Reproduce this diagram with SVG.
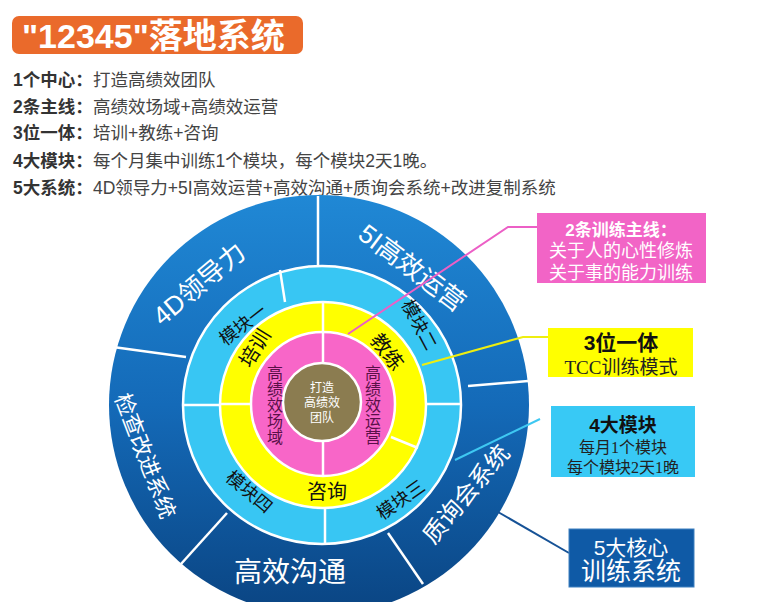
<svg xmlns="http://www.w3.org/2000/svg" width="760" height="602" viewBox="0 0 760 602">
<defs>
<linearGradient id="gOuter" x1="0" y1="0" x2="0" y2="1">
<stop offset="0" stop-color="#2088d5"/>
<stop offset="0.5" stop-color="#146ab8"/>
<stop offset="1" stop-color="#0a4482"/>
</linearGradient>
<style>
.t{font-family:"Liberation Sans","Noto Sans CJK SC",sans-serif}
.s{font-family:"Liberation Serif","Noto Sans CJK SC",serif}
.lbl{font-size:17.5px;font-weight:bold;fill:#333}
.val{font-size:17.5px;fill:#444}
.ow{fill:#fff;text-anchor:middle;dominant-baseline:central}
.bk{fill:#111;text-anchor:middle;dominant-baseline:central}
.div{stroke:#fff;stroke-width:2.5;fill:none}
.ring{stroke:#fff;stroke-width:2.5}
.lead{fill:none;stroke-width:2}
</style>
</defs>
<rect width="760" height="602" fill="#fff"/>

<g id="title">
<rect x="12" y="16" width="291" height="38" rx="7" fill="#ea6a2b"/>
<text class="t" x="22" y="48" font-size="34" font-weight="bold" fill="#fff">"12345"落地系统</text>
</g>

<g id="list">
<text class="t lbl" x="13" y="86">1个中心：</text><text class="t val" x="93" y="86">打造高绩效团队</text>
<text class="t lbl" x="13" y="113">2条主线：</text><text class="t val" x="93" y="113">高绩效场域+高绩效运营</text>
<text class="t lbl" x="13" y="139">3位一体：</text><text class="t val" x="93" y="139">培训+教练+咨询</text>
<text class="t lbl" x="13" y="167">4大模块：</text><text class="t val" x="93" y="167">每个月集中训练1个模块，每个模块2天1晚。</text>
<text class="t lbl" x="13" y="194">5大系统：</text><text class="t val" x="93" y="194">4D领导力+5I高效运营+高效沟通+质询会系统+改进复制系统</text>
</g>

<g id="outer-ring">
<circle cx="319" cy="405" r="210" fill="url(#gOuter)"/>
</g>
<g id="module-ring">
<circle class="ring" cx="322" cy="405" r="139" fill="#38c6f3"/>
</g>
<g id="yellow-ring">
<circle class="ring" cx="323" cy="405" r="103" fill="#ffff00"/>
</g>
<g id="pink-ring">
<circle class="ring" cx="323" cy="404" r="72" fill="#f866c8"/>
</g>

<g id="dividers">
<line class="div" x1="318" y1="196" x2="318" y2="266"/>
<line class="div" x1="113" y1="347" x2="186" y2="357"/>
<line class="div" x1="227" y1="513" x2="181" y2="564"/>
<line class="div" x1="388" y1="533" x2="423" y2="584"/>
<line class="div" x1="468" y1="386" x2="528" y2="381"/>
<line class="div" x1="280" y1="270" x2="285" y2="302"/>
<line class="div" x1="183" y1="405" x2="221" y2="405"/>
<line class="div" x1="325" y1="508" x2="325" y2="543"/>
<line class="div" x1="426" y1="404" x2="461" y2="404"/>
<line class="div" x1="323" y1="302" x2="323" y2="332"/>
<line class="div" x1="391" y1="437" x2="418" y2="448"/>
<line class="div" x1="220" y1="404" x2="251" y2="404"/>
<line class="div" x1="323" y1="332" x2="323" y2="476"/>
</g>

<g id="center">
<circle class="ring" cx="322" cy="402" r="39" fill="#8b7c50"/>
<text class="t" x="322" y="392" font-size="12" fill="#fff" text-anchor="middle">打造</text>
<text class="t" x="322" y="407" font-size="12" fill="#fff" text-anchor="middle">高绩效</text>
<text class="t" x="322" y="422" font-size="12" fill="#fff" text-anchor="middle">团队</text>
</g>

<g id="pink-labels" class="t" font-size="16" fill="#5a1048" text-anchor="middle">
<text x="275" y="379">高</text><text x="275" y="395">绩</text><text x="275" y="411">效</text><text x="275" y="427">场</text><text x="275" y="443">域</text>
<text x="373" y="379">高</text><text x="373" y="395">绩</text><text x="373" y="411">效</text><text x="373" y="427">运</text><text x="373" y="443">营</text>
</g>

<g id="yellow-labels" class="t" font-size="20">
<text class="bk" transform="translate(255,348) rotate(-58)">培训</text>
<text class="bk" transform="translate(387,352) rotate(52)">教练</text>
<text class="bk" transform="translate(327,492)">咨询</text>
</g>

<g id="module-labels" class="t" font-size="18">
<text class="bk" transform="translate(243,325) rotate(-38)">模块一</text>
<text class="bk" transform="translate(419,325) rotate(62)">模块二</text>
<text class="bk" transform="translate(401,500) rotate(-35)">模块三</text>
<text class="bk" transform="translate(249,492) rotate(40)">模块四</text>
</g>

<g id="outer-labels" class="t">
<text class="ow" font-size="26" transform="translate(199,284) rotate(-40)">4D领导力</text>
<text class="ow" font-size="26" transform="translate(412,268) rotate(37)">5I高效运营</text>
<text class="ow" font-size="22" transform="translate(145,456) rotate(69)">检查改进系统</text>
<text class="ow" font-size="28" transform="translate(290,572)">高效沟通</text>
<text class="ow" font-size="24" transform="translate(466,494) rotate(-50)">质询会系统</text>
</g>

<g id="connectors">
<polyline class="lead" stroke="#ec5fc6" points="537,227 508,227 348,334"/>
<polyline class="lead" stroke="#eeee10" points="548,337 523,337 422,365"/>
<line class="lead" stroke="#3ec8f2" x1="455" y1="460" x2="540" y2="419"/>
<line class="lead" stroke="#165296" x1="498" y1="512" x2="569" y2="553"/>
</g>

<g id="box-lines">
<rect x="537" y="213" width="169" height="70" fill="#f264c6"/>
<text class="t" x="621" y="236" font-size="17" font-weight="bold" fill="#fff" text-anchor="middle">2条训练主线：</text>
<text class="s" x="621" y="257" font-size="18" fill="#fff" text-anchor="middle">关于人的心性修炼</text>
<text class="s" x="621" y="279" font-size="18" fill="#fff" text-anchor="middle">关于事的能力训练</text>
</g>

<g id="box-three">
<rect x="548" y="328" width="145" height="49" fill="#ffff00"/>
<text class="t" x="621" y="350" font-size="21" font-weight="bold" fill="#111" text-anchor="middle">3位一体</text>
<text class="s" x="621" y="374" font-size="19" fill="#222" text-anchor="middle">TCC训练模式</text>
</g>

<g id="box-four">
<rect x="551" y="406" width="144" height="71" fill="#38c9f5"/>
<text class="t" x="623" y="432" font-size="19" font-weight="bold" fill="#111" text-anchor="middle">4大模块</text>
<text class="s" x="623" y="453" font-size="16" fill="#222" text-anchor="middle">每月1个模块</text>
<text class="s" x="623" y="473" font-size="16" fill="#222" text-anchor="middle">每个模块2天1晚</text>
</g>

<g id="box-five">
<rect x="569" y="529" width="125" height="58" fill="#0f5aa6" stroke="#3f80c0" stroke-width="1"/>
<text class="t" x="631" y="555" font-size="21" fill="#fff" text-anchor="middle">5大核心</text>
<text class="t" x="631" y="580" font-size="25" fill="#fff" text-anchor="middle">训练系统</text>
</g>
</svg>
